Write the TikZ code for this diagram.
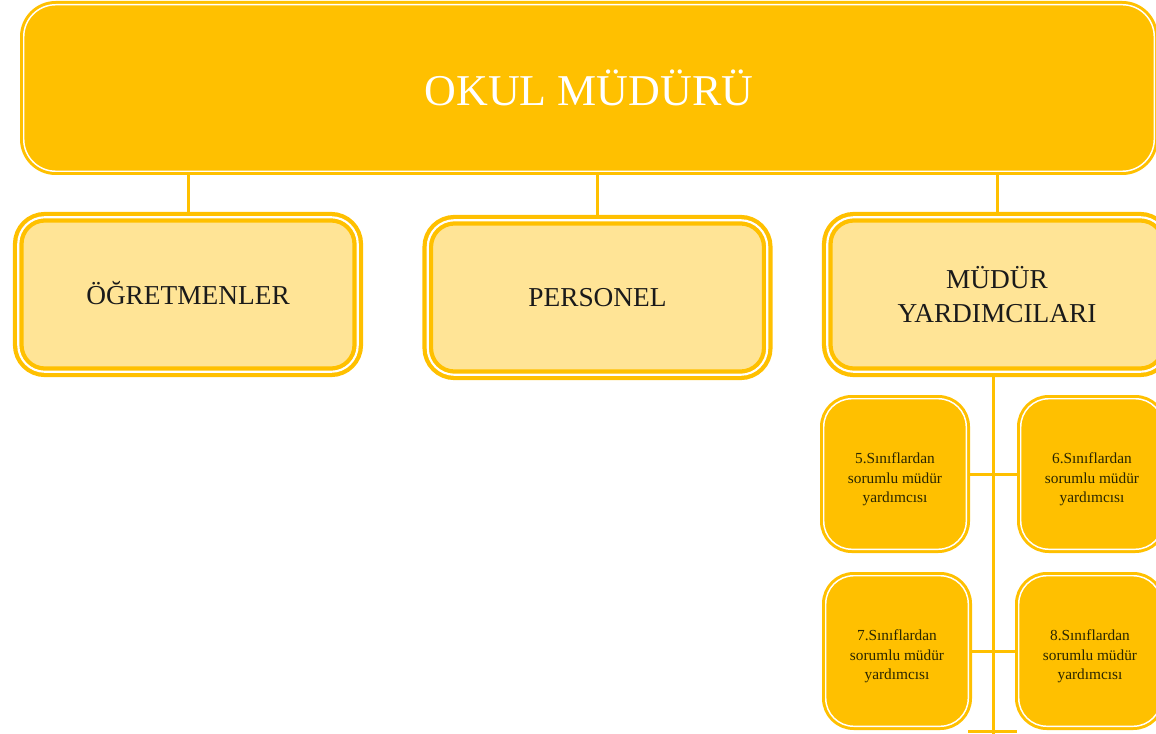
\documentclass[tikz,border=0pt]{standalone}
\usepackage{fontspec}
\setmainfont{Liberation Serif}
\usetikzlibrary{backgrounds}
\definecolor{gold}{HTML}{FFC000}
\definecolor{lightgold}{HTML}{FFE496}
\definecolor{darktext}{HTML}{1A1A1A}
\definecolor{olivetext}{HTML}{2A2600}
\newcommand\lowerstrut{\rule{0pt}{16pt}}
\tikzset{
  topbox/.style={rectangle, rounded corners=24pt, draw=gold, fill=gold,
    line width=2.25pt, double=white, double distance=1.1pt,
    minimum width=847.9pt, minimum height=124.9pt, inner sep=0pt,
    text=white, font=\fontsize{33}{40}\selectfont},
  midbox/.style={rectangle, rounded corners=20pt, draw=gold, fill=lightgold,
    line width=3.2pt, double=white, double distance=1.6pt,
    minimum width=254.6pt, minimum height=115.9pt, inner sep=0pt,
    align=center, text=darktext, font=\fontsize{20.5}{26}\selectfont},
  smallbox/.style={rectangle, rounded corners=21pt, draw=gold, fill=gold,
    line width=2.25pt, double=white, double distance=1.1pt,
    minimum width=106.9pt, minimum height=112.9pt, inner sep=0pt,
    align=center, text=olivetext, font=\fontsize{11.5}{14.5}\selectfont},
  link/.style={draw=gold, line width=2.25pt}
}
\begin{document}
\begin{tikzpicture}[x=0.75pt, y=-0.75pt]
\useasboundingbox (0,0) rectangle (1156,734);
\clip (0,0) rectangle (1156,734);

\node[topbox] (top) at (589,88) {OKUL MÜDÜRÜ};

\node[midbox] (ogr) at (188,294.5) {\raisebox{2pt}{ÖĞRETMENLER}};
\node[midbox] (per) at (597.5,297.5) {PERSONEL};
\node[midbox] (my) at (997,294.5) {MÜDÜR\\YARDIMCILARI};

\node[smallbox] (b5) at (895,474) {\lowerstrut 5.Sınıflardan\\sorumlu müdür\\yardımcısı};
\node[smallbox] (b6) at (1092,474) {\lowerstrut 6.Sınıflardan\\sorumlu müdür\\yardımcısı};
\node[smallbox] (b7) at (897,651) {\lowerstrut 7.Sınıflardan\\sorumlu müdür\\yardımcısı};
\node[smallbox] (b8) at (1090,651) {\lowerstrut 8.Sınıflardan\\sorumlu müdür\\yardımcısı};

\coordinate (vtop) at (993,380);
\coordinate (vend) at (993,745);
\coordinate (hl) at (968,731);
\coordinate (hr) at (1017,731);

\begin{scope}[on background layer]
  \draw[link] (ogr.north) -- (ogr.north |- top.south);
  \draw[link] (per.north) -- (per.north |- top.south);
  \draw[link] (my.north) -- (my.north |- top.south);
  \draw[link] (vtop |- my.south) -- (vend);
  \draw[link] (b5.east) -- (b6.west);
  \draw[link] (b7.east) -- (b8.west);
  \draw[link] (hl) -- (hr);
\end{scope}
\end{tikzpicture}
\end{document}
